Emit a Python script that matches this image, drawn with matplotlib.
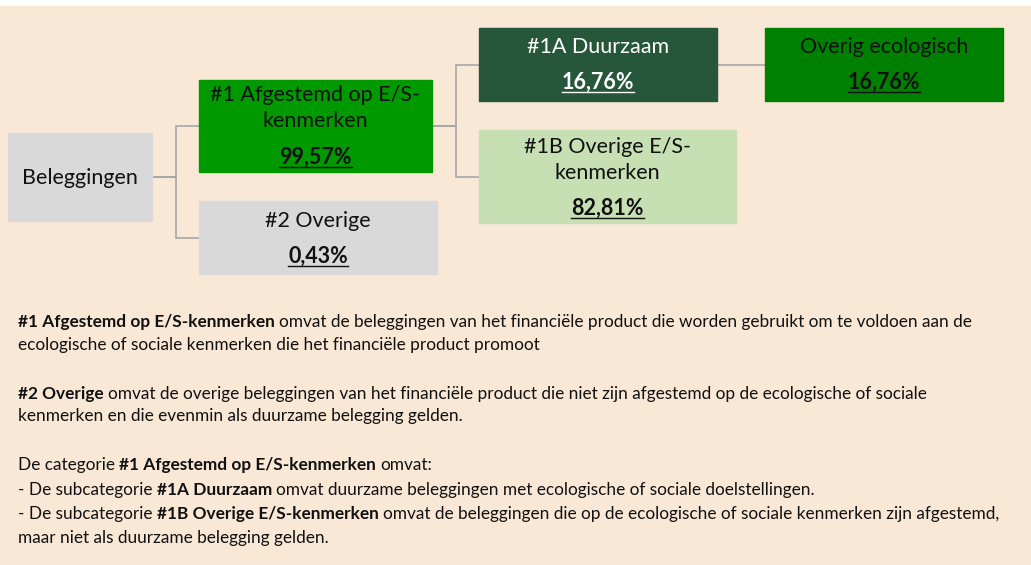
import matplotlib
matplotlib.use('Agg')
import matplotlib.pyplot as plt
from matplotlib.patches import Rectangle

W, H = 1031, 565
FONT = 'Lato'

# ─── Diagram content ──────────────────────────────────────────
box_names = ['Beleggingen',
             '#1 Afgestemd op E/S-\nkenmerken',
             '#2 Overige',
             '#1A Duurzaam',
             '#1B Overige E/S-\nkenmerken',
             'Overig ecologisch']
box_shares = [None, '99,57%', '0,43%', '16,76%', '82,81%', '16,76%']
# parent index of each box (None = root)
box_parent = [None, 0, 0, 1, 1, 3]

# explanatory text: list of lines, each a list of (text, bold) runs
notes = [
    [('#1 Afgestemd op E/S-kenmerken', True),
     ('omvat de beleggingen van het financiële product die worden gebruikt om te voldoen aan de', False)],
    [('ecologische of sociale kenmerken die het financiële product promoot', False)],
    [('#2 Overige', True),
     ('omvat de overige beleggingen van het financiële product die niet zijn afgestemd op de ecologische of sociale', False)],
    [('kenmerken en die evenmin als duurzame belegging gelden.', False)],
    [('De categorie', False), ('#1 Afgestemd op E/S-kenmerken', True), ('omvat:', False)],
    [('- De subcategorie', False), ('#1A Duurzaam', True),
     ('omvat duurzame beleggingen met ecologische of sociale doelstellingen.', False)],
    [('- De subcategorie', False), ('#1B Overige E/S-kenmerken', True),
     ('omvat de beleggingen die op de ecologische of sociale kenmerken zijn afgestemd,', False)],
    [('maar niet als duurzame belegging gelden.', False)],
]

# ─── Layout (pixel coords, y down) ────────────────────────────
box_rect = [(8, 133, 152, 221), (199, 80, 432, 172), (199, 201, 437, 274),
            (479, 28, 717, 101), (479, 130, 736, 223), (765, 28, 1003, 101)]
box_fill = ['#D9D9D9', '#009900', '#D9D9D9', '#26573A', '#C6E0B4', '#008000']
box_ink = ['#111111', '#111111', '#111111', '#FFFFFF', '#111111', '#111111']
label_base = [[184], [101, 127], [227], [53], [153, 179], [53]]
share_base = [None, 164, 263, 89, 215, 89]
note_base = [327, 350, 399, 421, 470, 495, 519, 543]
BOX_SIZE = 15.5
NOTE_SIZE = 12.4

fig = plt.figure(figsize=(W / 100, H / 100), dpi=100)
ax = fig.add_axes([0, 0, 1, 1])
ax.set_xlim(0, W)
ax.set_ylim(H, 0)
ax.axis('off')
renderer = fig.canvas.get_renderer()

ax.add_patch(Rectangle((0, 6), W, H - 6, color='#FAE8D7', zorder=0))

# connectors (elbow from parent right edge to child left edge)
for i, p in enumerate(box_parent):
    if p is None:
        continue
    px1 = box_rect[p][2]
    py = (box_rect[p][1] + box_rect[p][3]) / 2
    cx0 = box_rect[i][0]
    cy = (box_rect[i][1] + box_rect[i][3]) / 2
    xm = (px1 + cx0) / 2
    ax.plot([px1, xm, xm, cx0], [py, py, cy, cy], color='#A6A6A6',
            lw=1.2, zorder=1, solid_joinstyle='miter')

# boxes
for i, (x0, y0, x1, y1) in enumerate(box_rect):
    ax.add_patch(Rectangle((x0, y0), x1 - x0, y1 - y0, color=box_fill[i], zorder=2))
    cx = (x0 + x1) / 2
    for line, yb in zip(box_names[i].split('\n'), label_base[i]):
        ax.text(cx, yb, line, ha='center', va='baseline', fontsize=BOX_SIZE,
                family=FONT, color=box_ink[i], zorder=3)
    if box_shares[i]:
        t = ax.text(cx, share_base[i], box_shares[i], ha='center', va='baseline',
                    fontsize=BOX_SIZE, family=FONT, weight='bold',
                    color=box_ink[i], zorder=3)
        bb = t.get_window_extent(renderer)
        ax.plot([bb.x0, bb.x1], [share_base[i] + 2.5] * 2, color=box_ink[i],
                lw=1.0, zorder=3)


def text_width(s, bold):
    t = ax.text(0, 0, s, fontsize=NOTE_SIZE, family=FONT,
                weight='bold' if bold else 'normal')
    w = t.get_window_extent(renderer).width
    t.remove()
    return w


space = text_width('x x', False) - text_width('xx', False)

# explanatory text with bold runs
for runs, yb in zip(notes, note_base):
    x = 18
    for s, bold in runs:
        ax.text(x, yb, s, ha='left', va='baseline', fontsize=NOTE_SIZE,
                family=FONT, weight='bold' if bold else 'normal', color='#111111')
        x += text_width(s, bold) + space

fig.savefig('out.png', dpi=100)
